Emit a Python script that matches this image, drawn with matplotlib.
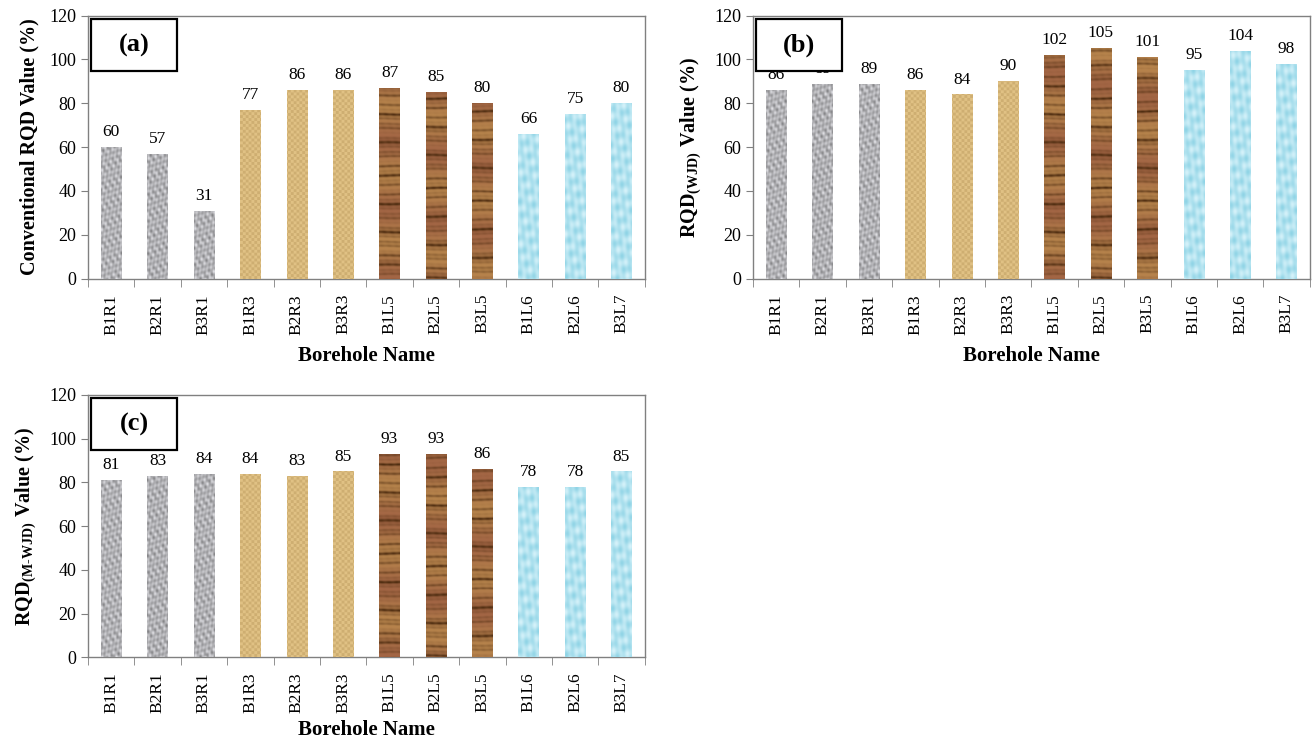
import numpy as np
import matplotlib
matplotlib.use("Agg")
import matplotlib.pyplot as plt

plt.rcParams["font.family"] = ["Liberation Serif", "DejaVu Serif"]
plt.rcParams["mathtext.fontset"] = "custom"
plt.rcParams["mathtext.rm"] = "Liberation Serif:bold"
plt.rcParams["mathtext.bf"] = "Liberation Serif:bold"

# data
boreholes = ["B1R1", "B2R1", "B3R1", "B1R3", "B2R3", "B3R3",
             "B1L5", "B2L5", "B3L5", "B1L6", "B2L6", "B3L7"]
rock_type = ["granite"] * 3 + ["burlap"] * 3 + ["wood"] * 3 + ["water"] * 3
rqd_conventional = [60, 57, 31, 77, 86, 86, 87, 85, 80, 66, 75, 80]
rqd_wjd = [86, 89, 89, 86, 84, 90, 102, 105, 101, 95, 104, 98]
rqd_mwjd = [81, 83, 84, 84, 83, 85, 93, 93, 86, 78, 78, 85]


def texture(kind, seed, h=270, w=22):
    # simple procedural fill to imitate the picture fills of the original
    yy, xx = np.mgrid[0:h, 0:w].astype(float)
    xx = xx + seed * 7.3
    yy = yy + seed * 13.1
    if kind == "granite":
        v = (np.sin(xx * 0.9 + yy * 0.41) + np.sin(xx * 0.37 - yy * 1.13 + 1.3)
             + np.sin((xx + yy) * 0.73 + 2.1) + np.sin(xx * 1.7 - yy * 0.23))
        v = (v - v.min()) / (v.max() - v.min())
        g = 0.50 + 0.40 * v
        return np.dstack([g, g, g * 1.02]).clip(0, 1)
    if kind == "burlap":
        chk = ((xx // 3 + yy // 3) % 2)
        line = ((xx % 3 == 0) | (yy % 3 == 0)).astype(float)
        base = np.array([0.88, 0.76, 0.52])
        dark = np.array([0.60, 0.45, 0.22])
        t = 0.25 * chk + 0.45 * line
        return base * (1 - t[..., None]) + dark * t[..., None]
    if kind == "wood":
        yw = yy + 0.35 * np.sin(xx * 0.12 + yy * 0.05)
        v = (np.sin(yw * 0.55 + 2.0 * np.sin(yw * 0.07)) + 0.8 * np.sin(yw * 1.3 + 1.0)
             + 0.6 * np.sin(yw * 0.21 + 0.4) + 0.15 * np.sin(xx * 0.8 + yy * 0.3))
        v = (v - v.min()) / (v.max() - v.min())
        v = v ** 2.5
        hue = 0.5 + 0.5 * np.sin(yy * 0.09 + 0.7)
        light = np.array([0.72, 0.52, 0.30]) * (1 - hue[..., None]) + np.array([0.64, 0.40, 0.27]) * hue[..., None]
        dark = np.array([0.30, 0.17, 0.06])
        return light * (1 - v[..., None]) + dark * v[..., None]
    v = (np.sin(xx * 0.5 + yy * 0.3) * np.sin(yy * 0.21 - xx * 0.4)
         + 0.5 * np.sin((xx - yy) * 0.35))
    v = (v - v.min()) / (v.max() - v.min())
    base = np.array([0.56, 0.83, 0.90])
    light = np.array([0.84, 0.95, 0.98])
    return base * (1 - v[..., None]) + light * v[..., None]


base_colors = {"granite": "#b4b4b8", "burlap": "#d8b97c", "wood": "#8a5a30", "water": "#a6dfec"}

fig = plt.figure(figsize=(13.13, 7.41), dpi=100)


def panel(rect, values, ylabel, tag, xpad=8):
    ax = fig.add_axes(rect)
    x = np.arange(len(boreholes))
    width = 0.44
    bars = ax.bar(x, values, width, color=[base_colors[k] for k in rock_type],
                  edgecolor="none", zorder=2)
    for i, (b, k) in enumerate(zip(bars, rock_type)):
        im = ax.imshow(texture(k, i), extent=[i - width / 2, i + width / 2, 0, 120],
                       aspect="auto", origin="lower", zorder=3, interpolation="bilinear")
        im.set_clip_path(b)
        ax.annotate(str(values[i]), (i, values[i]), xytext=(0, 5),
                    textcoords="offset points", ha="center", va="bottom", fontsize=12.5)

    ax.set_xlim(-0.5, len(boreholes) - 0.5)
    ax.set_ylim(0, 120)
    ax.set_yticks(range(0, 121, 20))
    ax.set_xticks(x)
    ax.set_xticklabels(boreholes, rotation=90, fontsize=12.5)
    ax.set_xticks(np.arange(-0.5, len(boreholes)), minor=True)
    ax.tick_params(axis="x", which="major", length=0, pad=11)
    ax.tick_params(axis="x", which="minor", length=6, color="#808080", direction="out")
    ax.tick_params(axis="y", length=5, color="#808080", labelsize=13)
    for s in ax.spines.values():
        s.set_color("#808080")
        s.set_linewidth(1.0)
    ax.set_xlabel("Borehole Name", fontsize=15, fontweight="bold", labelpad=xpad)
    ax.set_ylabel(ylabel, fontsize=14.5, fontweight="bold", labelpad=7)

    ax.text(0.083, 0.888, tag, transform=ax.transAxes, fontsize=19, fontweight="bold",
            ha="center", va="center", zorder=6)
    box = plt.Rectangle((0.006, 0.79), 0.154, 0.198, transform=ax.transAxes,
                        facecolor="white", edgecolor="black", linewidth=1.6, zorder=5)
    ax.add_patch(box)
    return ax


panel([0.067, 0.624, 0.424, 0.355], rqd_conventional, "Conventional RQD Value (%)", "(a)")
panel([0.5735, 0.624, 0.424, 0.355], rqd_wjd, r"RQD$_{\mathrm{(WJD)}}$ Value (%)", "(b)")
panel([0.067, 0.113, 0.424, 0.354], rqd_mwjd, r"RQD$_{\mathrm{(M\text{-}WJD)}}$ Value (%)", "(c)", xpad=5)

fig.savefig("out.png", dpi=100)
